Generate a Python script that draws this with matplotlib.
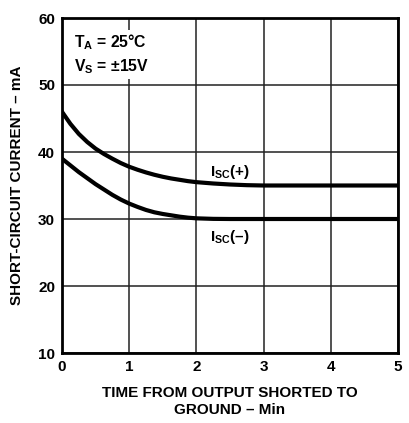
import matplotlib
matplotlib.use('Agg')
import matplotlib.pyplot as plt

plt.rcParams['font.family'] = ['Liberation Sans', 'DejaVu Sans']
plt.rcParams['font.weight'] = 'bold'
plt.rcParams['mathtext.fontset'] = 'custom'
plt.rcParams['mathtext.rm'] = 'Liberation Sans:bold'
plt.rcParams['mathtext.bf'] = 'Liberation Sans:bold'

# Short-circuit current vs time
time_min = [0, 0.125, 0.25, 0.375, 0.5, 0.625, 0.75, 0.875, 1.0, 1.125, 1.25, 1.375,
            1.5, 1.625, 1.75, 1.875, 2.0, 2.25, 2.5, 2.75, 3.0, 3.5, 4.0, 4.5, 5.0]
isc_pos = [46.0, 44.2, 42.7, 41.5, 40.5, 39.7, 39.0, 38.35, 37.8, 37.35, 36.95, 36.6,
           36.3, 36.05, 35.85, 35.65, 35.5, 35.3, 35.15, 35.05, 35.0, 35.0, 35.0, 35.0, 35.0]
isc_neg = [39.0, 38.0, 37.0, 36.1, 35.2, 34.4, 33.6, 32.9, 32.3, 31.8, 31.35, 31.0,
           30.75, 30.55, 30.35, 30.2, 30.1, 30.02, 30.0, 30.0, 30.0, 30.0, 30.0, 30.0, 30.0]

x_ticks = [0, 1, 2, 3, 4, 5]
y_ticks = [10, 20, 30, 40, 50, 60]

fig = plt.figure(figsize=(4.09, 4.23), dpi=100)
ax = fig.add_axes([62 / 409, 1 - 353 / 423, 336 / 409, 335 / 423])

ax.plot(time_min, isc_pos, color='black', lw=3, solid_joinstyle='round', zorder=3)
ax.plot(time_min, isc_neg, color='black', lw=3, solid_joinstyle='round', zorder=3)

ax.set_xlim(0, 5)
ax.set_ylim(10, 60)
ax.set_xticks(x_ticks)
ax.set_yticks(y_ticks)
ax.grid(True, color='#222222', lw=1.1)
ax.tick_params(length=0, labelsize=11, pad=5)
for lab in ax.get_xticklabels() + ax.get_yticklabels():
    lab.set_fontweight('bold')
for sp in ax.spines.values():
    sp.set_linewidth(2)

ax.set_xlabel('TIME FROM OUTPUT SHORTED TO\nGROUND – Min', fontsize=11, fontweight='bold',
              labelpad=9, linespacing=1.25)
ax.set_ylabel('SHORT-CIRCUIT CURRENT – mA', fontsize=11, fontweight='bold', labelpad=10)

ax.text(0.18, 57.8, '$\\mathbf{T_A}$ = 25°C\n$\\mathbf{V_S}$ = ±15V', fontsize=11.3,
        fontweight='bold', va='top', ha='left', linespacing=1.35,
        bbox=dict(facecolor='white', edgecolor='none', pad=2), zorder=4)

ax.text(2.2, 37.0, '$\\mathrm{I_{SC}}$(+)', fontsize=11, fontweight='bold', va='center', zorder=4)
ax.text(2.2, 27.3, '$\\mathrm{I_{SC}}$(–)', fontsize=11, fontweight='bold', va='center', zorder=4)

fig.savefig('out.png', dpi=100)
